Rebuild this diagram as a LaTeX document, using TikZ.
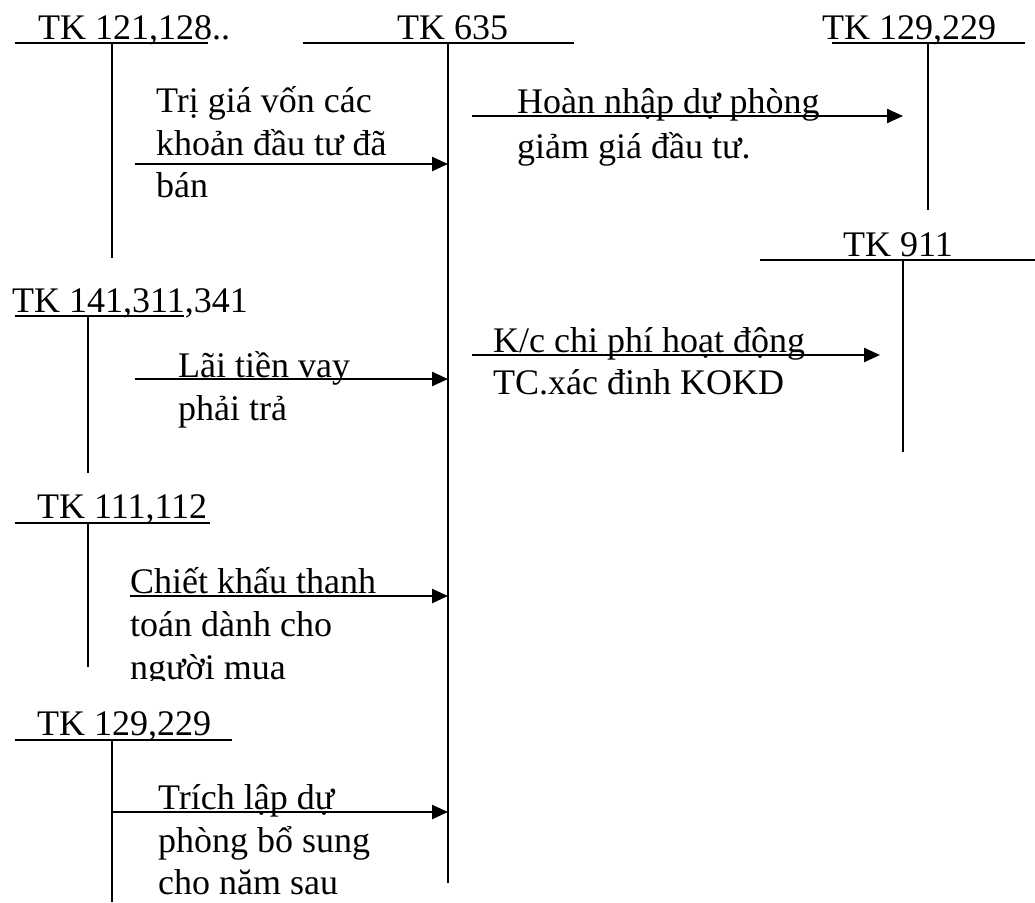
\documentclass[tikz,border=0pt]{standalone}
\usepackage{fontspec}
\setmainfont{Liberation Serif}
\usetikzlibrary{arrows.meta}
\begin{document}
\begin{tikzpicture}[x=1pt,y=-1pt,
  lbl/.style={anchor=base west, inner sep=0pt, font=\fontsize{36}{42}\selectfont},
  acct/.style={line width=2pt},
  flow/.style={line width=2.4pt, -{Triangle[length=16pt,width=14pt]}}]
\useasboundingbox (0,0) rectangle (1035,902);
% ---- account headers ----
\node[lbl] (h1) at (38,39) {TK 121,128..};
\coordinate (h1L) at (15,43); \coordinate (h1R) at (208,43);
\coordinate (h1T) at (112,43); \coordinate (h1B) at (112,258);
\draw[acct] (h1L) -- (h1R); \draw[acct] (h1T) -- (h1B);

\node[lbl] (h2) at (397,39) {TK 635};
\coordinate (h2L) at (303,43); \coordinate (h2R) at (574,43);
\coordinate (h2T) at (448,43); \coordinate (h2B) at (448,883);
\draw[acct] (h2L) -- (h2R); \draw[acct] (h2T) -- (h2B);

\node[lbl] (h3) at (822,39) {TK 129,229};
\coordinate (h3L) at (832,43); \coordinate (h3R) at (1025,43);
\coordinate (h3T) at (928,43); \coordinate (h3B) at (928,210);
\draw[acct] (h3L) -- (h3R); \draw[acct] (h3T) -- (h3B);

\node[lbl] (h4) at (843,256) {TK 911};
\coordinate (h4L) at (760,260); \coordinate (h4R) at (1035,260);
\coordinate (h4T) at (903,260); \coordinate (h4B) at (903,452);
\draw[acct] (h4L) -- (h4R); \draw[acct] (h4T) -- (h4B);

\node[lbl] (h5) at (12,312) {TK 141,311,341};
\coordinate (h5L) at (15,316); \coordinate (h5R) at (184,316);
\coordinate (h5T) at (88,316); \coordinate (h5B) at (88,473);
\draw[acct] (h5L) -- (h5R); \draw[acct] (h5T) -- (h5B);

\node[lbl] (h6) at (37,518) {TK 111,112};
\coordinate (h6L) at (15,523); \coordinate (h6R) at (210,523);
\coordinate (h6T) at (88,523); \coordinate (h6B) at (88,667);
\draw[acct] (h6L) -- (h6R); \draw[acct] (h6T) -- (h6B);

\node[lbl] (h7) at (37,735) {TK 129,229};
\coordinate (h7L) at (15,740); \coordinate (h7R) at (232,740);
\coordinate (h7T) at (112,740); \coordinate (h7B) at (112,902);
\draw[acct] (h7L) -- (h7R); \draw[acct] (h7T) -- (h7B);

% ---- flows ----
\coordinate (a1s) at (135,164); \coordinate (a1e) at (448,164);
\draw[flow] (a1s) -- (a1e);
\node[lbl] (t1a) at (156,112) {Trị giá vốn các};
\node[lbl] (t1b) at (156,155) {khoản đầu tư đã};
\node[lbl] (t1c) at (156,197) {bán};

\coordinate (a2s) at (472,116); \coordinate (a2e) at (903,116);
\draw[flow] (a2s) -- (a2e);
\node[lbl] (t2a) at (517,113) {Hoàn nhập dự phòng};
\node[lbl] (t2b) at (517,158) {giảm giá đầu tư.};

\coordinate (a3s) at (135,379); \coordinate (a3e) at (448,379);
\draw[flow] (a3s) -- (a3e);
\node[lbl] (t3a) at (178,377) {Lãi tiền vay};
\node[lbl] (t3b) at (178,420) {phải trả};

\coordinate (a4s) at (472,355); \coordinate (a4e) at (880,355);
\draw[flow] (a4s) -- (a4e);
\node[lbl] (t4a) at (493,352) {K/c chi phí hoạt động};
\node[lbl] (t4b) at (493,394) {TC.xác đinh KOKD};

\coordinate (a5s) at (130,596); \coordinate (a5e) at (448,596);
\draw[flow] (a5s) -- (a5e);
\node[lbl] (t5a) at (130,593) {Chiết khấu thanh};
\node[lbl] (t5b) at (130,636) {toán dành cho};
\begin{scope}
\clip (0,0) rectangle (1035,680);
\node[lbl] (t5c) at (130,679) {người mua};
\end{scope}

\coordinate (a6s) at (112,812); \coordinate (a6e) at (448,812);
\draw[flow] (a6s) -- (a6e);
\node[lbl] (t6a) at (158,809) {Trích lập dự};
\node[lbl] (t6b) at (158,852) {phòng bổ sung};
\node[lbl] (t6c) at (158,894) {cho năm sau};
\end{tikzpicture}
\end{document}
